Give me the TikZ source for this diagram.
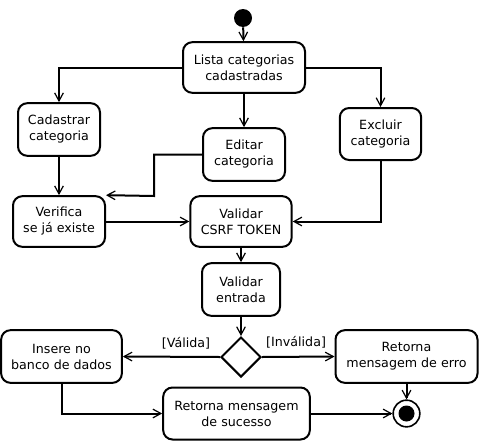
\documentclass[tikz,border=0pt]{standalone}
\usepackage{fontspec}
\setmainfont{DejaVu Sans}
\usepackage{tikz}
\usetikzlibrary{arrows.meta,shapes.geometric}
\tikzset{
	acao/.style={draw, rounded corners=7pt, line width=1.5pt, align=center, font=\fontsize{9.5}{12}\selectfont},
	flow/.style={line width=1.5pt, -{Straight Barb[length=6pt,width=6.5pt,line width=0.9pt]}},
	decisao/.style={draw, diamond, line width=1.5pt, minimum width=30pt, minimum height=30pt, inner sep=0pt},
	inicio/.style={circle, fill=black, minimum size=13.5pt, inner sep=0pt},
	fim/.style={circle, draw, line width=1.2pt, minimum size=20pt, inner sep=0pt, path picture={\fill[black] (path picture bounding box.center) circle (6pt);}}
}
\begin{document}
\begin{tikzpicture}[x=0.75pt,y=-0.75pt]
				\useasboundingbox (0,0) rectangle (481,446);
				
				\node[inicio] (ini) at (243,18) {};
				\node[acao, minimum width=91.5pt, minimum height=38pt] (lista) at (244,67.5) {Lista categorias\\cadastradas};
				\node[acao, minimum width=61.5pt, minimum height=39.5pt] (cad) at (59,129.5) {Cadastrar\\categoria};
				\node[acao, minimum width=61.5pt, minimum height=39.5pt] (edit) at (244,154.5) {Editar\\categoria};
				\node[acao, minimum width=61pt, minimum height=39pt] (excl) at (380.5,134) {Excluir\\categoria};
				\node[acao, minimum width=69pt, minimum height=38pt] (verif) at (59,221.5) {Verifica\\se já existe};
				\node[acao, minimum width=76pt, minimum height=38pt] (csrf) at (241,221.5) {Validar\\CSRF TOKEN};
				\node[acao, minimum width=58.5pt, minimum height=39.5pt] (entrada) at (241,289.5) {Validar\\entrada};
				\node[decisao] (dec) at (241,357) {};
				\node[acao, minimum width=90.5pt, minimum height=39.5pt] (insere) at (61.5,356.5) {Insere no\\banco de dados};
				\node[acao, minimum width=106.5pt, minimum height=39.5pt] (erro) at (406.5,356.5) {Retorna\\mensagem de erro};
				\node[acao, minimum width=110pt, minimum height=39pt] (sucesso) at (236.5,413.5) {Retorna mensagem\\de sucesso};
				\node[fim] (final) at (406.5,413.5) {};
				
				\draw[flow] (ini) -- (lista);
				\draw[flow] (lista.west) -| (cad.north);
				\draw[flow] (lista) -- (edit);
				\draw[flow] (lista.east) -| (excl.north);
				\draw[flow] (cad) -- (verif);
				\draw[flow] (edit.west) -| (154,196) -- (verif.north east);
				\draw[flow] (verif) -- (csrf);
				\draw[flow] (excl.south) |- (csrf.east);
				\draw[flow] (csrf) -- (entrada);
				\draw[flow] (entrada) -- (dec);
				\draw[flow] (dec.west) -- node[above, pos=0.35, font=\fontsize{9.5}{12}\selectfont, yshift=2pt] {[Válida]} (insere.east);
				\draw[flow] (dec.east) -- node[above, pos=0.47, font=\fontsize{9.5}{12}\selectfont, yshift=2pt] {[Inválida]} (erro.west);
				\draw[flow] (insere.south) |- (sucesso.west);
				\draw[flow] (sucesso) -- (final);
				\draw[flow] (erro) -- (final);
			\end{tikzpicture}
\end{document}
